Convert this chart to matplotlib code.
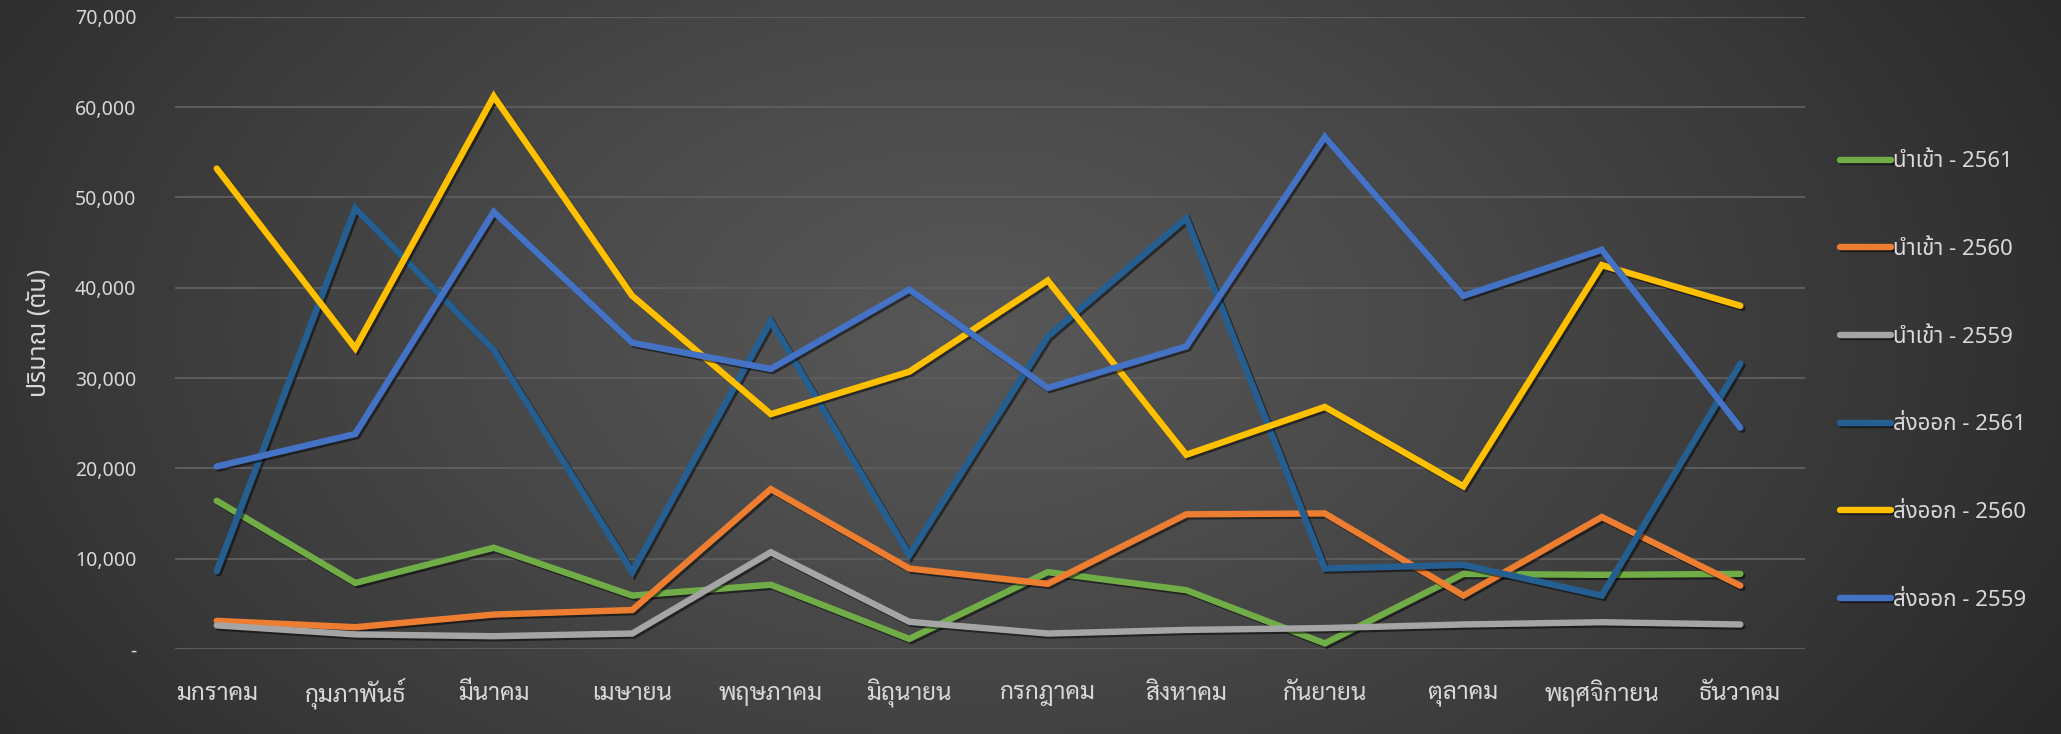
import numpy as np
import matplotlib
matplotlib.use("Agg")
import matplotlib.pyplot as plt
import matplotlib.patheffects as pe
from matplotlib.ticker import FuncFormatter

months = ["มกราคม", "กุมภาพันธ์", "มีนาคม", "เมษายน", "พฤษภาคม", "มิถุนายน",
          "กรกฎาคม", "สิงหาคม", "กันยายน", "ตุลาคม", "พฤศจิกายน", "ธันวาคม"]

import_2561 = [16400, 7300, 11200, 5900, 7100, 1100, 8500, 6500, 600, 8300, 8200, 8300]
import_2560 = [3100, 2400, 3800, 4300, 17700, 8900, 7200, 14900, 15000, 5900, 14600, 7000]
import_2559 = [2600, 1600, 1400, 1700, 10700, 3000, 1700, 2100, 2300, 2700, 2950, 2700]
export_2561 = [8600, 48800, 33100, 8500, 36300, 10400, 34600, 47700, 8900, 9300, 5900, 31600]
export_2560 = [53200, 33300, 61200, 39100, 26000, 30700, 40800, 21500, 26800, 18000, 42500, 38000]
export_2559 = [20200, 23800, 48400, 33900, 31000, 39800, 28900, 33500, 56700, 39100, 44200, 24500]

labels = ["นำเข้า - 2561", "นำเข้า - 2560", "นำเข้า - 2559",
          "ส่งออก - 2561", "ส่งออก - 2560", "ส่งออก - 2559"]
series = [import_2561, import_2560, import_2559, export_2561, export_2560, export_2559]
colors = ["#70AD47", "#ED7D31", "#A5A5A5", "#255E91", "#FFC000", "#4472C4"]

plt.rcParams['font.family'] = ['Noto Sans Thai', 'DejaVu Sans']
txt = '#d9d9d9'

fig = plt.figure(figsize=(20.61, 7.34), dpi=100)

# background radial gradient
bg = fig.add_axes([0, 0, 1, 1], zorder=0)
xx, yy = np.meshgrid(np.linspace(0, 1, 600), np.linspace(0, 1, 220))
r = np.sqrt(((xx - 0.47) / 0.62) ** 2 + ((yy - 0.55) / 1.1) ** 2)
r = np.clip(r, 0, 1)
val = 0x57 - (0x57 - 0x27) * r ** 1.2
img = np.dstack([val, val, val]) / 255.0
bg.imshow(img, aspect='auto', extent=[0, 1, 0, 1], origin='lower')
bg.axis('off')

ax = fig.add_axes([0.085, 0.116, 0.791, 0.861], zorder=1)
ax.patch.set_alpha(0)
x = np.arange(len(months))
for vals, lab, c in zip(series, labels, colors):
    ax.plot(x, vals, color=c, lw=4.6, label=lab, solid_capstyle='round',
            solid_joinstyle='miter',
            path_effects=[pe.SimpleLineShadow(offset=(1.5, -1.5), shadow_color='black', alpha=0.5),
                          pe.Normal()])

ax.set_xlim(-0.3, 11.47)
ax.set_ylim(0, 70000)
ax.set_yticks(np.arange(0, 70001, 10000))
ax.yaxis.set_major_formatter(FuncFormatter(lambda v, p: "-" if v == 0 else f"{int(v):,}"))
ax.set_xticks(x)
ax.set_xticklabels(months, fontsize=17.5, color=txt, family=['Sarabun', 'DejaVu Sans'],
                   va='center')
for t in ax.get_yticklabels():
    t.set_family(['Noto Sans', 'DejaVu Sans'])
ax.tick_params(axis='y', labelsize=14, labelcolor=txt, length=0, pad=28)
ax.tick_params(axis='x', length=0, pad=32)
ax.grid(axis='y', color='#5c5c5c', lw=1.5)
for s in ax.spines.values():
    s.set_visible(False)
ax.set_ylabel("ปริมาณ (ตัน)", fontsize=18, color=txt, labelpad=16)

fig.legend(loc='center left', bbox_to_anchor=(0.883, 0.481), frameon=False,
           fontsize=16, labelcolor=txt, handlelength=2.3, handletextpad=0.1,
           labelspacing=3.0)

fig.savefig("out.png", dpi=100)
